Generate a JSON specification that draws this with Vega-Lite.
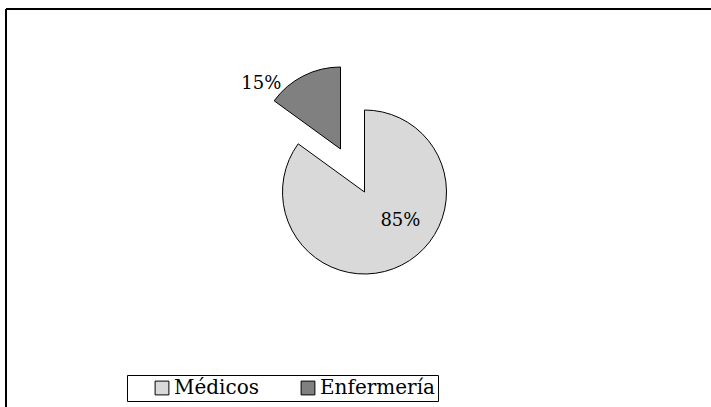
{
  "$schema": "https://vega.github.io/schema/vega-lite/v6.json",
  "width": 705,
  "height": 398,
  "autosize": {"type": "none"},
  "padding": {"left": 6, "top": 9, "right": 0, "bottom": 0},
  "background": "white",
  "config": {
    "view": {"stroke": null},
    "font": "DejaVu Serif"
  },
  "data": {
    "values": [
      {"cat": "Médicos", "value": 85, "label": "85%"},
      {"cat": "Enfermería", "value": 15, "label": "15%"}
    ]
  },
  "layer": [
    {
      "data": {"values": [{"frame": "border"}]},
      "mark": {"type": "rect", "fill": null, "stroke": "black", "strokeWidth": 2, "strokeDash": [705, 1103, 398, 0], "x": 0, "y": 0, "x2": {"expr": "width"}, "y2": {"expr": "height"}},
      "encoding": {}
    },
    {
      "encoding": {
        "theta": {"field": "value", "type": "quantitative", "stack": true},
        "order": {"field": "cat", "sort": "descending"},
        "color": {
          "field": "cat",
          "type": "nominal",
          "scale": {"domain": ["Médicos", "Enfermería"], "range": ["#d9d9d9", "#808080"]},
          "legend": {
            "orient": "none",
            "legendX": 121,
            "legendY": 366,
            "direction": "horizontal",
            "title": null,
            "strokeColor": "black",
            "fillColor": "white",
            "padding": 3,
            "symbolType": "square",
            "symbolSize": 190,
            "symbolStrokeColor": "black",
            "symbolStrokeWidth": 1,
            "symbolOffset": 22,
            "labelOffset": 2,
            "labelFont": "DejaVu Serif",
            "labelFontSize": 20,
            "labelColor": "black",
            "columnPadding": 16
          }
        }
      },
      "layer": [
        {
          "mark": {"type": "arc", "outerRadius": 82, "stroke": "black", "strokeWidth": 1, "xOffset": 6, "yOffset": -16},
          "encoding": {
            "opacity": {"condition": {"test": "datum.cat === 'Médicos'", "value": 1}, "value": 0}
          }
        },
        {
          "mark": {"type": "arc", "outerRadius": 82, "stroke": "black", "strokeWidth": 1, "xOffset": -18, "yOffset": -59},
          "encoding": {
            "opacity": {"condition": {"test": "datum.cat === 'Enfermería'", "value": 1}, "value": 0}
          }
        },
        {
          "mark": {"type": "text", "fontSize": 18, "xOffset": 21, "yOffset": -28},
          "encoding": {
            "radius": {"value": 46},
            "color": {"value": "black"},
            "text": {"condition": {"test": "datum.cat === 'Médicos'", "field": "label", "type": "nominal"}, "value": ""}
          }
        },
        {
          "mark": {"type": "text", "fontSize": 18, "xOffset": -54, "yOffset": -39},
          "encoding": {
            "radius": {"value": 95},
            "color": {"value": "black"},
            "text": {"condition": {"test": "datum.cat === 'Enfermería'", "field": "label", "type": "nominal"}, "value": ""}
          }
        }
      ]
    }
  ]
}
